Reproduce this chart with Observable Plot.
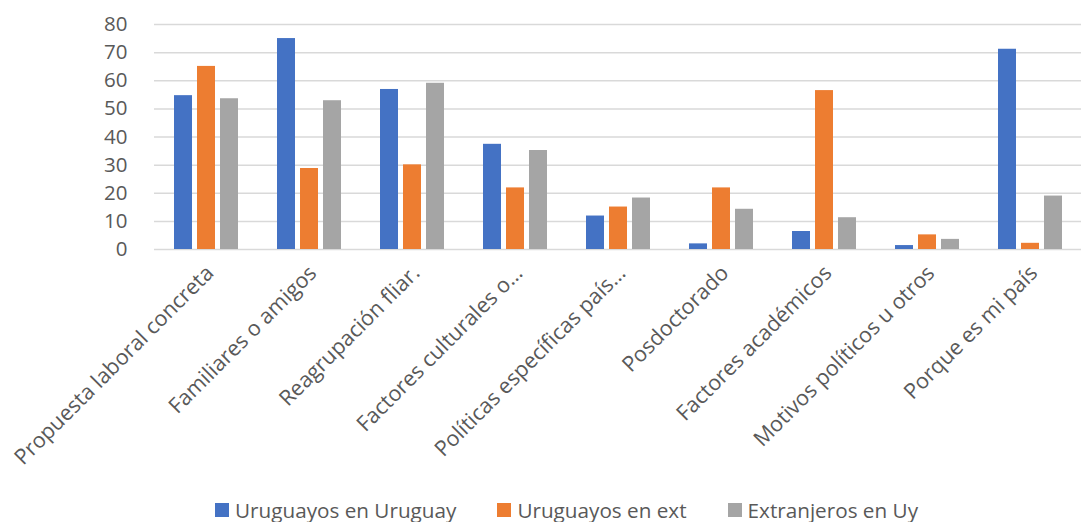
<!DOCTYPE html>
<html>
<head>
<meta charset="utf-8">
<script src="https://cdn.jsdelivr.net/npm/d3@7"></script>
<script src="https://cdn.jsdelivr.net/npm/@observablehq/plot@0.6"></script>
<style>
  body { margin: 0; background: #fff; font-family: "Open Sans", sans-serif; }
  #legend { display: flex; justify-content: center; gap: 41px; font-size: 20.7px; color: #595959; margin-top: 8px; padding-left: 45px; line-height: 24px; }
  #legend span.sw { display: inline-block; width: 14px; height: 14px; margin-right: 6px; }
  #legend div { display: flex; align-items: center; }
</style>
</head>
<body>
<div id="chart"></div>
<div id="legend"></div>
<script>
const categories = [
  "Propuesta laboral concreta",
  "Familiares o amigos",
  "Reagrupación fliar.",
  "Factores culturales o…",
  "Políticas específicas país…",
  "Posdoctorado",
  "Factores académicos",
  "Motivos políticos u otros",
  "Porque es mi país"
];
const series = ["Uruguayos en Uruguay", "Uruguayos en ext", "Extranjeros en Uy"];
const uruguayosEnUruguay = [54.7, 75.0, 56.9, 37.4, 11.9, 2.0, 6.4, 1.4, 71.2];
const uruguayosEnExt     = [65.1, 28.8, 30.1, 21.9, 15.1, 21.9, 56.5, 5.2, 2.2];
const extranjerosEnUy    = [53.6, 52.9, 59.1, 35.2, 18.3, 14.3, 11.3, 3.6, 19.0];
const colors = ["#4472C4", "#ED7D31", "#A5A5A5"];
const yTicks = [0, 10, 20, 30, 40, 50, 60, 70, 80];

const valuesBySeries = [uruguayosEnUruguay, uruguayosEnExt, extranjerosEnUy];
const data = [];
categories.forEach((c, i) => {
  series.forEach((s, j) => data.push({category: c, series: s, value: valuesBySeries[j][i]}));
});

const chart = Plot.plot({
  width: 1088,
  height: 490,
  marginTop: 24,
  marginBottom: 241,
  marginLeft: 150,
  marginRight: 3,
  style: {fontFamily: "Open Sans, sans-serif", color: "#595959"},
  fx: {domain: categories, padding: 0, label: null, axis: null},
  x: {domain: series, paddingInner: 0.22, paddingOuter: 0.82, axis: null},
  y: {domain: [0, 80], label: null},
  color: {domain: series, range: colors},
  marks: [
    Plot.gridY(yTicks, {stroke: "#d9d9d9", strokeOpacity: 1, strokeWidth: 1.5}),
    Plot.barY(data, {fx: "category", x: "series", y: "value", fill: "series"}),
    Plot.axisY(yTicks, {tickSize: 0, tickPadding: 27, fontSize: 20.5, label: null, tickFormat: d => d}),
    Plot.axisFx({anchor: "bottom", tickRotate: -45, tickSize: 0, tickPadding: 20, dx: 4, fontSize: 21.5, label: null})
  ]
});
document.getElementById("chart").appendChild(chart);

const legend = document.getElementById("legend");
series.forEach((s, i) => {
  const d = document.createElement("div");
  d.innerHTML = `<span class="sw" style="background:${colors[i]}"></span>${s}`;
  legend.appendChild(d);
});
</script>
</body>
</html>
